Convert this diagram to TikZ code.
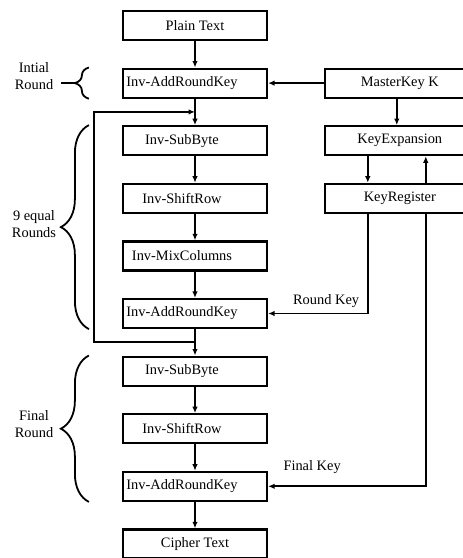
\documentclass[tikz,border=0pt]{standalone}
\usepackage{fontspec}
\setmainfont{Liberation Serif}
\usetikzlibrary{positioning, calc, arrows.meta, decorations.pathreplacing}

\tikzset{
  stage/.style={draw, line width=2.2pt, minimum width=144pt, minimum height=29pt, inner sep=0pt},
  invstage/.style={stage, execute at begin node={\kern-26pt}},
  keystage/.style={stage, minimum width=150pt},
  flow/.style={line width=1.8pt, -{Latex[length=6.5pt,width=5.5pt]}},
  link/.style={line width=1.8pt},
  rbrace/.style={decorate, decoration={brace, amplitude=#1}, line width=1.8pt},
  tag/.style={align=center, inner sep=0pt},
}

\begin{document}
\begin{tikzpicture}[x=1pt, y=-1pt, font=\fontsize{14.4}{17.5}\selectfont, node distance=26.4pt]
    \useasboundingbox (0,0) rectangle (463,558);
    \clip (0,0) rectangle (463,558);

    % decryption rounds
    \node[stage] (plain) at (195,25.5) {Plain Text};
    \node[invstage, below=of plain] (ark1) {Inv-AddRoundKey};
    \node[invstage, below=of ark1] (sb1) {Inv-SubByte};
    \node[invstage, below=of sb1] (sr1) {Inv-ShiftRow};
    \node[invstage, below=of sr1] (mc) {Inv-MixColumns};
    \node[invstage, below=of mc] (ark2) {Inv-AddRoundKey};
    \node[invstage, below=of ark2] (sb2) {Inv-SubByte};
    \node[invstage, below=of sb2] (sr2) {Inv-ShiftRow};
    \node[invstage, below=of sr2] (ark3) {Inv-AddRoundKey};
    \node[stage, below=of ark3] (cipher) {Cipher Text};

    % key schedule
    \node[keystage, right=55.6pt of ark1] (mk) {MasterKey K};
    \node[keystage, below=of mk] (kexp) {KeyExpansion};
    \node[keystage, below=of kexp] (kreg) {KeyRegister};

    \draw[flow] (plain) -- (ark1);
    \draw[flow] (ark1) -- (sb1);
    \draw[flow] (sb1) -- (sr1);
    \draw[flow] (sr1) -- (mc);
    \draw[flow] (mc) -- (ark2);
    \draw[flow] (ark2) -- (sb2);
    \draw[flow] (sb2) -- (sr2);
    \draw[flow] (sr2) -- (ark3);
    \draw[flow] (ark3) -- (cipher);

    \draw[flow] (mk.west) -- (ark1.east);
    \draw[flow] ([xshift=-3pt]mk.south) -- ([xshift=-3pt]kexp.north);
    \draw[flow] ([xshift=-32pt]kexp.south) -- ([xshift=-32pt]kreg.north);
    \draw[flow] ([xshift=26pt]kreg.north) -- ([xshift=26pt]kexp.south);
    \draw[flow] ([xshift=-32pt]kreg.south) |- (ark2.east);
    \draw[flow] ([xshift=26pt]kreg.south) |- (ark3.east);
    \node[tag] (rkey) at ($(ark2.east)+(58pt,12pt)$) {Round Key};
    \node[tag] (fkey) at ($(ark3.east)+(44pt,19pt)$) {Final Key};

    % loop back for the 9 rounds
    \coordinate (j1) at ($(ark1.south)!0.5!(sb1.north)$);
    \coordinate (j2) at ($(ark2.south)!0.5!(sb2.north)$);
    \coordinate (back) at ($(ark2.west |- j2)+(-28pt,0)$);
    \draw[flow] (j2) -- (back) |- (j1);

    % round braces
    \draw[rbrace=14pt] ($(ark1.south west)+(-33pt,0)$) -- ($(ark1.north west)+(-33pt,0)$);
    \coordinate (itip) at ($(ark1.west)+(-47pt,0)$);
    \coordinate (iend) at ($(ark1.west)+(-61pt,0)$);
    \draw[link] (itip) -- (iend);
    \draw[rbrace=28pt] ($(ark2.south west)+(-33pt,0)$) -- ($(sb1.north west)+(-33pt,0)$);
    \draw[rbrace=28pt] ($(ark3.south west)+(-33pt,0)$) -- ($(sb2.north west)+(-33pt,0)$);

    \node[tag] (rinit) at (34,76) {Intial\\Round};
    \node[tag] (rnine) at (34,224) {9 equal\\Rounds};
    \node[tag] (rfinal) at (34,424) {Final\\Round};
\end{tikzpicture}
\end{document}
